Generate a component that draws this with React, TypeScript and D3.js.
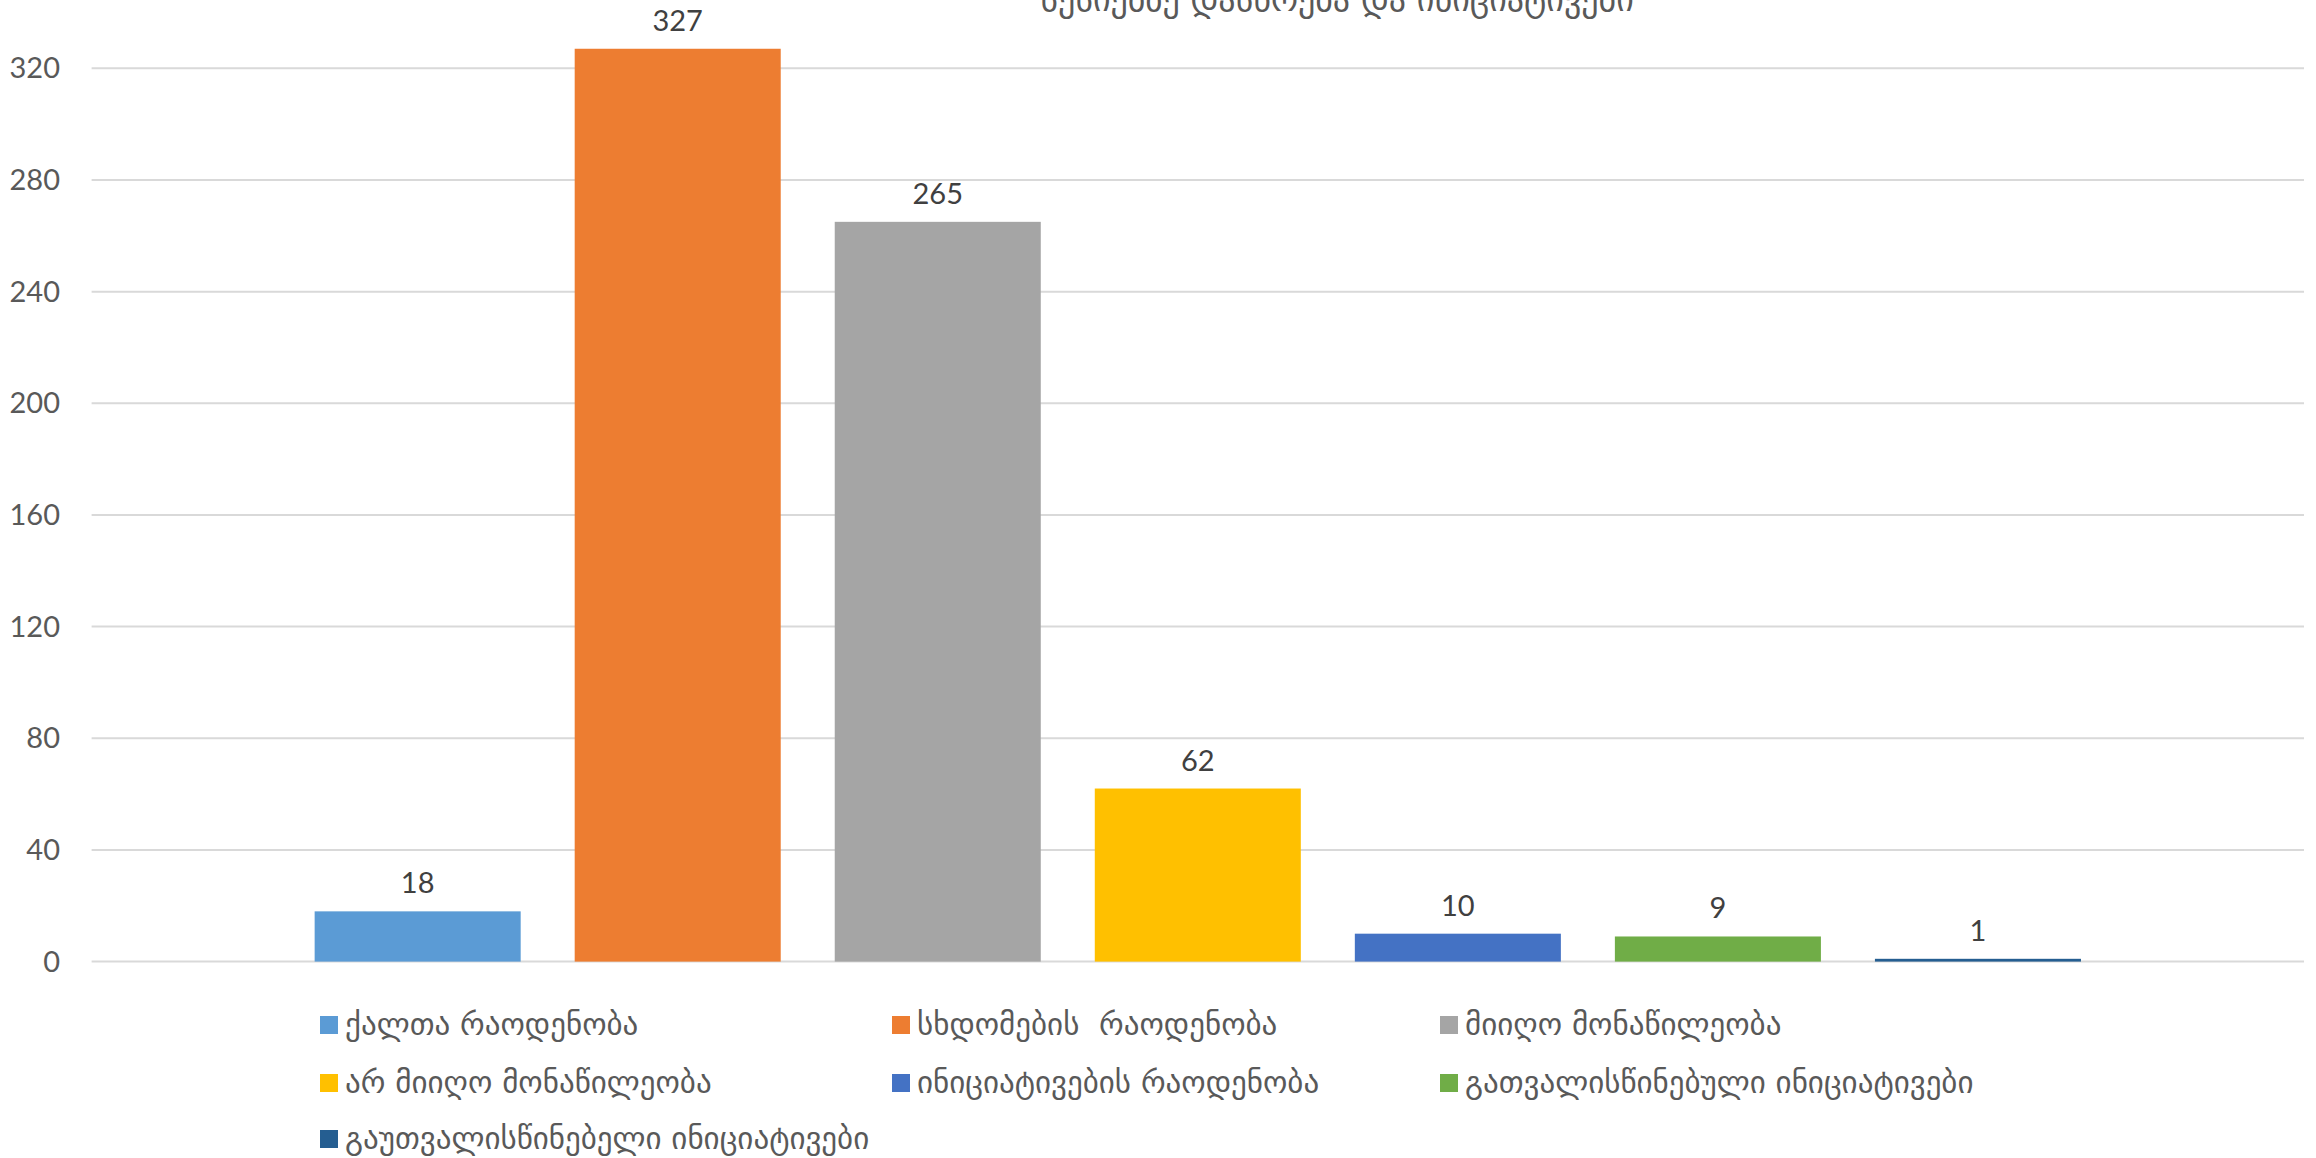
import React from 'react';
import * as d3 from 'd3';

const titleText = 'სესიებზე დასწრება და ინიციატივები';
const seriesNames = [
  'ქალთა რაოდენობა',
  'სხდომების  რაოდენობა',
  'მიიღო მონაწილეობა',
  'არ მიიღო მონაწილეობა',
  'ინიციატივების რაოდენობა',
  'გათვალისწინებული ინიციატივები',
  'გაუთვალისწინებელი ინიციატივები',
];
const seriesValues = [18, 327, 265, 62, 10, 9, 1];
const seriesColors = ['#5B9BD5', '#ED7D31', '#A5A5A5', '#FFC000', '#4472C4', '#70AD47', '#255E91'];
const yTickValues = [0, 40, 80, 120, 160, 200, 240, 280, 320];

export default function App() {
  const W = 2316;
  const H = 1158;
  const plotLeft = 91.6;
  const plotRight = 2304;
  const yZero = 961.6;
  const yTopGrid = 68.3;

  const y = d3.scaleLinear().domain([0, 320]).range([yZero, yTopGrid]);
  const x = d3
    .scaleBand<string>()
    .domain(seriesNames)
    .range([plotLeft, plotRight])
    .paddingInner(0.2077)
    .paddingOuter(0.8577);

  const numFont = 'Lato, "Open Sans", sans-serif';
  const geoFont = '"DejaVu Sans", sans-serif';

  const legendCols = [320, 892, 1440];
  const legendRows = [1025, 1083, 1139];

  return (
    <svg
      width={W}
      height={H}
      style={{ position: 'absolute', left: 0, top: 0, background: '#fff' }}
    >
      <rect x={0} y={0} width={W} height={H} fill="#fff" />
      <text
        x={1337}
        y={11}
        textAnchor="middle"
        fontFamily={geoFont}
        fontSize={34}
        fill="#595959"
      >
        {titleText}
      </text>
      {yTickValues.map((t) => (
        <g key={t}>
          <line x1={plotLeft} x2={plotRight} y1={y(t)} y2={y(t)} stroke="#D9D9D9" strokeWidth={2} />
          <text
            x={60}
            y={y(t)}
            dy="0.35em"
            textAnchor="end"
            fontFamily={numFont}
            fontSize={29}
            fill="#595959"
          >
            {t}
          </text>
        </g>
      ))}
      {seriesNames.map((name, i) => {
        const bx = x(name) as number;
        const bw = x.bandwidth();
        const v = seriesValues[i];
        return (
          <g key={name}>
            <rect x={bx} y={y(v)} width={bw} height={yZero - y(v)} fill={seriesColors[i]} />
            <text
              x={bx + bw / 2}
              y={y(v) - 18}
              textAnchor="middle"
              fontFamily={numFont}
              fontSize={29}
              fill="#404040"
            >
              {v}
            </text>
          </g>
        );
      })}
      {seriesNames.map((name, i) => {
        const cx = legendCols[i % 3];
        const cy = legendRows[Math.floor(i / 3)];
        return (
          <g key={'lg' + name}>
            <rect x={cx} y={cy - 9} width={18} height={18} fill={seriesColors[i]} />
            <text
              x={cx + 25}
              y={cy + 10}
              fontFamily={geoFont}
              fontSize={31}
              fill="#595959"
              style={{ whiteSpace: 'pre' }}
            >
              {name}
            </text>
          </g>
        );
      })}
    </svg>
  );
}
